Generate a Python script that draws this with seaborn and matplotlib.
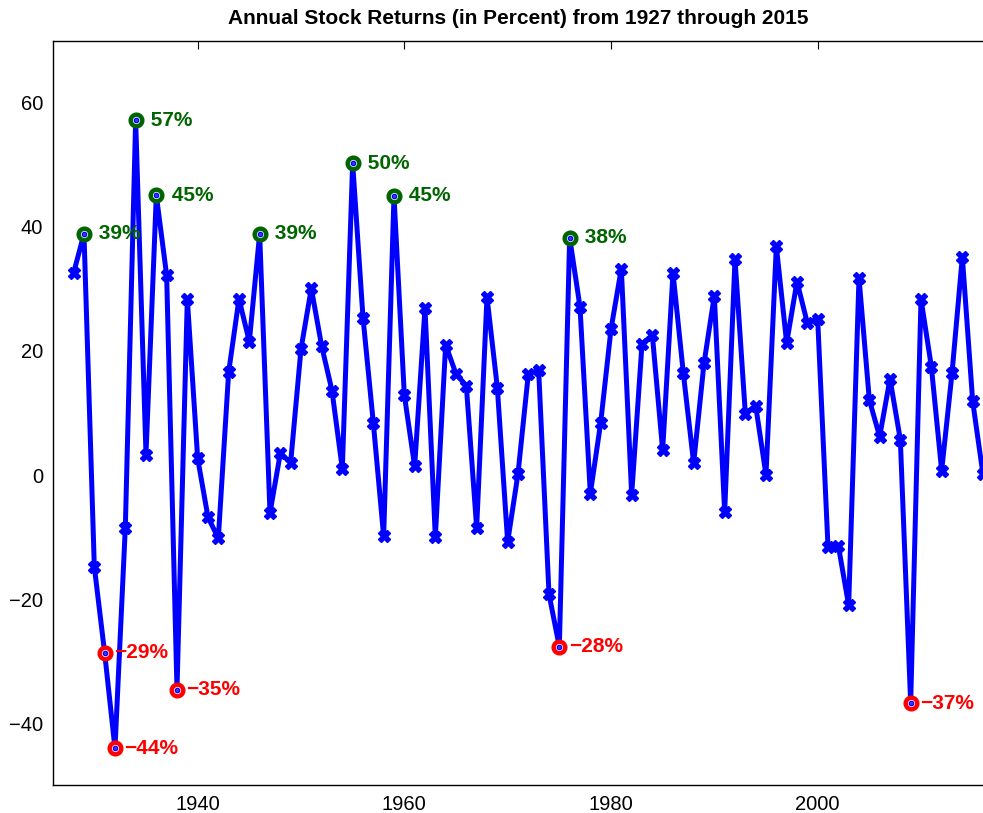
import numpy as np
import pandas as pd
import matplotlib
matplotlib.use("Agg")
import matplotlib.pyplot as plt
import seaborn as sns

# year positions as drawn in the picture, and annual returns in percent
years = list(range(1928, 2017))
returns = [32.6, 38.9, -14.8, -28.7, -44.1, -8.5, 57.2, 3.3, 45.1, 32.2,
           -34.6, 28.4, 2.7, -6.8, -10.2, 16.6, 28.4, 21.5, 38.9, -6.1,
           3.5, 2.0, 20.3, 30.1, 20.8, 13.6, 1.0, 50.3, 25.4, 8.4,
           -9.9, 45.0, 12.9, 1.4, 26.9, -10.0, 21.0, 16.3, 14.4, -8.5,
           28.7, 14.1, -10.8, 0.2, 16.3, 16.9, -19.2, -27.7, 38.3, 27.1,
           -3.0, 8.4, 23.5, 33.3, -3.2, 21.1, 22.6, 4.0, 32.6, 16.4,
           1.9, 18.0, 28.9, -6.0, 34.8, 9.9, 11.2, 0.0, 36.9, 21.3,
           31.2, 24.5, 25.2, -11.6, -11.4, -21.0, 31.8, 12.1, 6.2, 15.5,
           5.7, -36.8, 28.4, 17.5, 0.7, 16.4, 35.2, 11.9, 0.1]

# years that get a circle and a label
best_years = [1929, 1934, 1936, 1946, 1955, 1959, 1976]
worst_years = [1931, 1932, 1938, 1975, 2009]

title = "Annual Stock Returns (in Percent) from 1927 through 2015"

df = pd.DataFrame({"year": years, "ret": returns})
best = df[df.year.isin(best_years)]
worst = df[df.year.isin(worst_years)]

green = "#006400"
red = "#ff0000"

sns.set_style("white")
plt.rcParams["font.family"] = ["Liberation Sans", "DejaVu Sans"]

fig = plt.figure(figsize=(9.83, 8.13), dpi=100)
ax = fig.add_axes([0.0539, 0.0344, 0.9461, 0.9152])

sns.lineplot(data=df, x="year", y="ret", ax=ax, color="blue", linewidth=3.6,
             marker="X", markersize=8.5, markeredgecolor="blue", markeredgewidth=1)

# highlighted extremes
for sub, col in [(best, green), (worst, red)]:
    sns.scatterplot(data=sub, x="year", y="ret", ax=ax, s=70, marker="o",
                    facecolor="white", edgecolor=col, linewidth=3.2, zorder=3)
    sns.scatterplot(data=sub, x="year", y="ret", ax=ax, s=10, marker="o",
                    facecolor="#3a3aff", edgecolor="blue", linewidth=0.9, zorder=4)
    for _, row in sub.iterrows():
        v = int(round(row.ret))
        lab = f" {v}%" if v > 0 else f"\u2212{abs(v)}%"
        ax.text(row.year + 0.9, row.ret, lab, color=col, fontsize=15,
                fontweight="bold", va="center", ha="left", zorder=5)

ax.set_xlim(1926, 2016)
ax.set_ylim(-50, 70)
ax.set_xticks([1940, 1960, 1980, 2000])
ax.set_yticks([-40, -20, 0, 20, 40, 60])
ax.set_xlabel("")
ax.set_ylabel("")
ax.tick_params(direction="in", length=6, width=0.8, top=True, right=False,
               labelsize=14.5, pad=7, colors="black")
for s in ax.spines.values():
    s.set_color("black")
    s.set_linewidth(1.0)
ax.spines["right"].set_visible(False)

ax.set_title(title, fontsize=15, fontweight="bold", pad=12, color="black")

fig.savefig("out.png", dpi=100)
